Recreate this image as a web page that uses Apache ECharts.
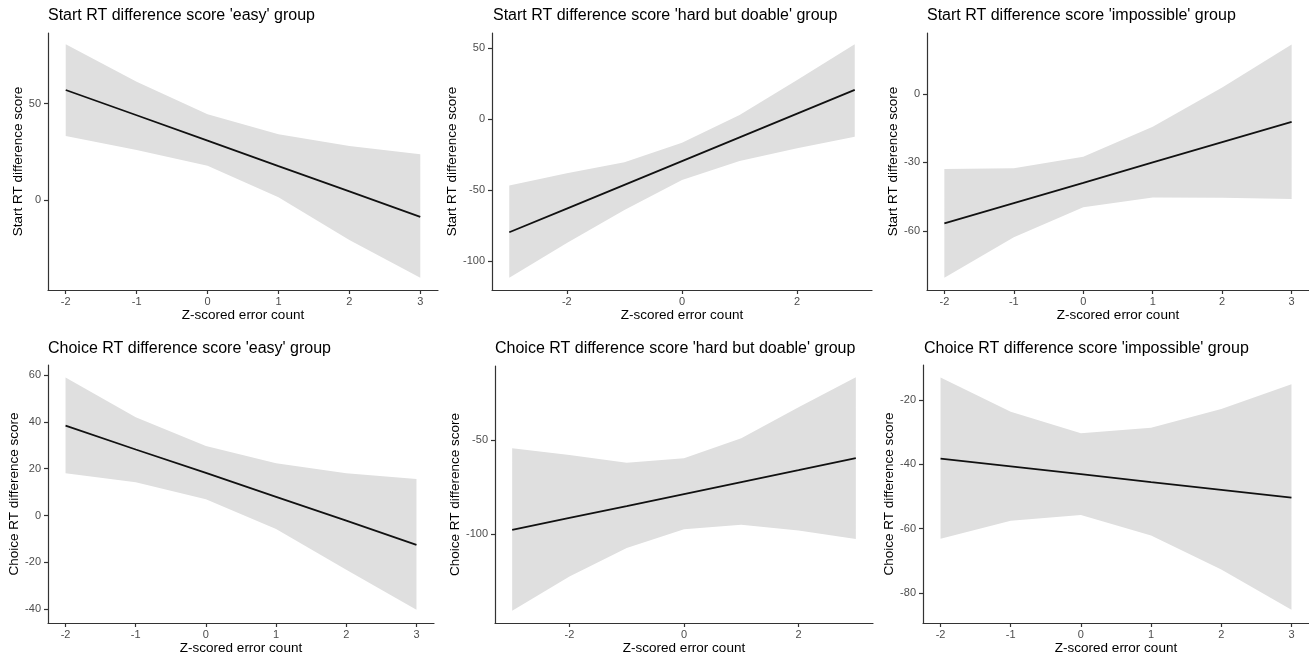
<!DOCTYPE html>
<html>
<head>
<meta charset="utf-8">
<script src="https://cdn.jsdelivr.net/npm/echarts@6/dist/echarts.min.js"></script>
<style>
html,body{margin:0;padding:0;background:#fff;}
#chart{width:1309px;height:657px;}
</style>
</head>
<body>
<div id="chart"></div>
<script>
// ---------- data ----------
const titles = [
  "Start RT difference score 'easy' group",
  "Start RT difference score 'hard but doable' group",
  "Start RT difference score 'impossible' group",
  "Choice RT difference score 'easy' group",
  "Choice RT difference score 'hard but doable' group",
  "Choice RT difference score 'impossible' group"
];
const yTitles = [
  "Start RT difference score","Start RT difference score","Start RT difference score",
  "Choice RT difference score","Choice RT difference score","Choice RT difference score"
];
const xTitle = "Z-scored error count";

const xNarrow = [-2, -1, 0, 1, 2, 3];
const xWide = [-3, -2, -1, 0, 1, 2, 3];

// Panel 1: Start easy
const fit1   = [57.1, 44.0, 30.8, 17.6, 4.5, -8.7];
const upper1 = [80.8, 61.4, 44.5, 34.1, 28.0, 23.7];
const lower1 = [33.2, 26.0, 17.8, 1.4, -20.8, -40.3];
// Panel 2: Start hard but doable
const fit2   = [-79.9, -63.2, -46.5, -29.7, -13.0, 3.8, 20.5];
const upper2 = [-47.0, -38.3, -30.5, -16.7, 2.8, 27.5, 52.7];
const lower2 = [-111.9, -87.5, -64.2, -43.0, -29.6, -20.7, -12.5];
// Panel 3: Start impossible
const fit3   = [-56.8, -47.9, -39.0, -30.0, -21.1, -12.2];
const upper3 = [-32.9, -32.6, -27.5, -14.3, 2.9, 21.8];
const lower3 = [-80.6, -62.9, -49.7, -45.4, -45.5, -46.1];
// Panel 4: Choice easy
const fit4   = [38.4, 28.2, 18.2, 8.0, -2.2, -12.5];
const upper4 = [59.0, 42.0, 29.7, 22.3, 18.1, 15.6];
const lower4 = [18.1, 14.2, 7.0, -5.8, -23.2, -40.2];
// Panel 5: Choice hard but doable
const fit5   = [-97.9, -91.5, -85.2, -78.8, -72.4, -66.1, -59.7];
const upper5 = [-54.4, -58.0, -62.1, -59.7, -49.1, -32.6, -16.6];
const lower5 = [-141.0, -122.7, -107.6, -97.5, -95.2, -98.2, -102.7];
// Panel 6: Choice impossible
const fit6   = [-38.2, -40.6, -43.0, -45.5, -47.9, -50.3];
const upper6 = [-13.0, -23.6, -30.3, -28.6, -22.8, -15.1];
const lower6 = [-63.1, -57.5, -55.7, -62.1, -72.7, -85.2];

// tick labels
const xTicksNarrow = [-2, -1, 0, 1, 2, 3];
const xTicksWide = [-2, 0, 2];
const yTicks1 = [0, 50];
const yTicks2 = [-100, -50, 0, 50];
const yTicks3 = [-60, -30, 0];
const yTicks4 = [-40, -20, 0, 20, 40, 60];
const yTicks5 = [-100, -50];
const yTicks6 = [-80, -60, -40, -20];

// ---------- layout ----------
const panels = [
  {x: xNarrow, fit: fit1, up: upper1, lo: lower1, xt: xTicksNarrow, yt: yTicks1, xr: [-2.25, 3.25], yr: [-46.7, 86.7],
   grid: {left: 48, top: 33, width: 390, height: 257}, nameGap: 22, titleLeft: 48, titleTop: 8},
  {x: xWide, fit: fit2, up: upper2, lo: lower2, xt: xTicksWide, yt: yTicks2, xr: [-3.3, 3.3], yr: [-120.6, 60.6],
   grid: {left: 492, top: 33, width: 380, height: 257}, nameGap: 29, titleLeft: 493, titleTop: 8},
  {x: xNarrow, fit: fit3, up: upper3, lo: lower3, xt: xTicksNarrow, yt: yTicks3, xr: [-2.25, 3.25], yr: [-86.0, 26.8],
   grid: {left: 927, top: 33, width: 387, height: 257}, nameGap: 24, titleLeft: 927, titleTop: 8},
  {x: xNarrow, fit: fit4, up: upper4, lo: lower4, xt: xTicksNarrow, yt: yTicks4, xr: [-2.25, 3.25], yr: [-45.9, 64.3],
   grid: {left: 48, top: 365, width: 386, height: 258}, nameGap: 24, titleLeft: 48, titleTop: 341},
  {x: xWide, fit: fit5, up: upper5, lo: lower5, xt: xTicksWide, yt: yTicks5, xr: [-3.3, 3.3], yr: [-147.5, -10.6],
   grid: {left: 495, top: 366, width: 378, height: 257}, nameGap: 30, titleLeft: 495, titleTop: 341},
  {x: xNarrow, fit: fit6, up: upper6, lo: lower6, xt: xTicksNarrow, yt: yTicks6, xr: [-2.25, 3.25], yr: [-89.3, -9.1],
   grid: {left: 923, top: 365, width: 386, height: 258}, nameGap: 24, titleLeft: 924, titleTop: 341}
];

const FONT = "'Liberation Sans', Arial, sans-serif";
const axisLineStyle = {color: '#333', width: 1.2};

const option = {
  animation: false,
  backgroundColor: '#fff',
  title: [], grid: [], xAxis: [], yAxis: [], series: []
};

panels.forEach((p, i) => {
  option.title.push({
    text: titles[i], left: p.titleLeft, top: p.titleTop, padding: 0,
    textStyle: {fontFamily: FONT, fontSize: 16, fontWeight: 'normal', color: '#000'}
  });
  option.grid.push(Object.assign({containLabel: false}, p.grid));
  option.xAxis.push({
    type: 'value', gridIndex: i, min: p.xr[0], max: p.xr[1],
    name: xTitle, nameLocation: 'middle', nameGap: 18,
    nameTextStyle: {fontFamily: FONT, fontSize: 13.5, color: '#000'},
    axisLine: {show: true, onZero: false, lineStyle: axisLineStyle},
    axisTick: {show: true, length: 4, inside: false, customValues: p.xt, lineStyle: axisLineStyle},
    axisLabel: {customValues: p.xt, margin: 6, fontFamily: FONT, fontSize: 11, color: '#4d4d4d'},
    splitLine: {show: false}
  });
  option.yAxis.push({
    type: 'value', gridIndex: i, min: p.yr[0], max: p.yr[1],
    name: yTitles[i], nameLocation: 'middle', nameGap: p.nameGap, nameRotate: 90,
    nameTextStyle: {fontFamily: FONT, fontSize: 13.5, color: '#000'},
    axisLine: {show: true, onZero: false, lineStyle: axisLineStyle},
    axisTick: {show: true, length: 4, inside: false, customValues: p.yt, lineStyle: axisLineStyle},
    axisLabel: {customValues: p.yt, margin: 7, fontFamily: FONT, fontSize: 11, color: '#4d4d4d'},
    splitLine: {show: false}
  });
  // confidence band: polygon of upper edge forward + lower edge backward
  const bandPts = p.x.map((x, k) => [x, p.up[k]])
    .concat(p.x.map((x, k) => [x, p.lo[k]]).reverse());
  option.series.push({
    type: 'custom', xAxisIndex: i, yAxisIndex: i, silent: true, z: 1,
    data: bandPts,
    renderItem: function (params, api) {
      if (params.dataIndex !== 0) return null;
      const pts = bandPts.map(pt => api.coord(pt));
      return {type: 'polygon', shape: {points: pts}, style: {fill: '#dfdfdf', stroke: null}};
    }
  });
  option.series.push({
    type: 'line', xAxisIndex: i, yAxisIndex: i,
    data: p.x.map((x, k) => [x, p.fit[k]]),
    symbol: 'none', lineStyle: {color: '#111', width: 1.8}, z: 3
  });
});

const chart = echarts.init(document.getElementById('chart'), null, {renderer: 'canvas'});
chart.setOption(option);
</script>
</body>
</html>
